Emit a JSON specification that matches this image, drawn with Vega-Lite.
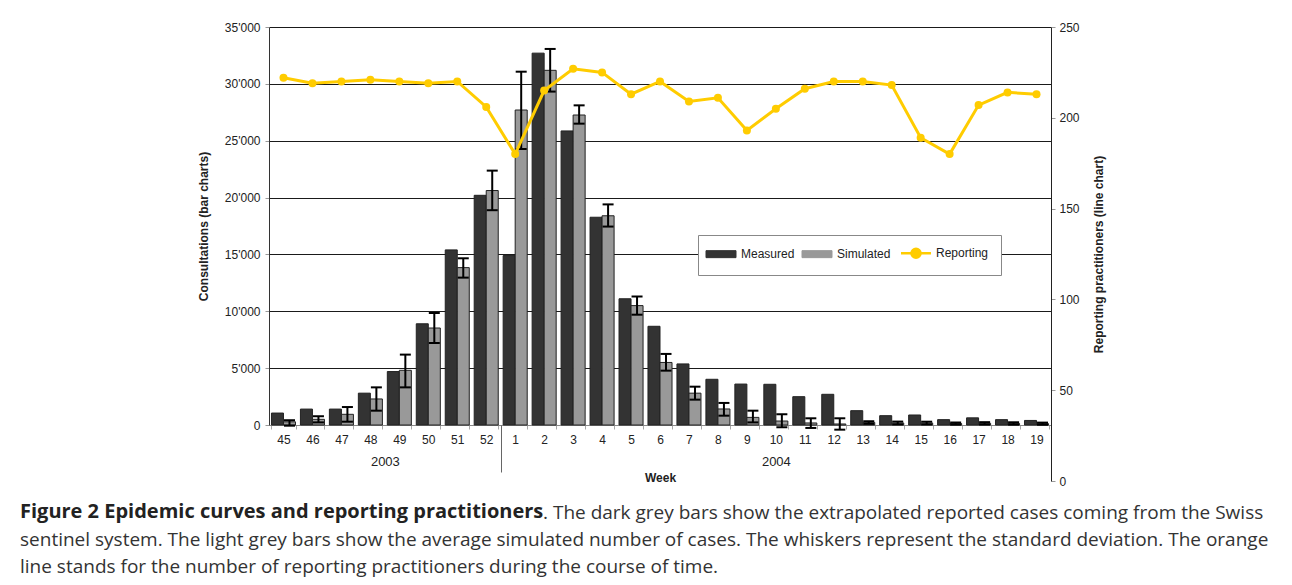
{
  "$schema": "https://vega.github.io/schema/vega-lite/v6.json",
  "padding": {"left": 20, "top": 21, "right": 5, "bottom": 5},
  "background": "white",
  "config": {
    "font": "Liberation Sans",
    "view": {"stroke": null},
    "axis": {"labelFont": "Liberation Sans", "titleFont": "Liberation Sans"},
    "legend": {"labelFont": "Liberation Sans"}
  },
  "title": {
    "text": ". The dark grey bars show the extrapolated reported cases coming from the Swiss",
    "orient": "bottom", "anchor": "start", "frame": "bounds",
    "dx": 523, "offset": -73,
    "font": "Open Sans", "fontSize": 19, "fontWeight": "normal", "color": "#333333"
  },
  "resolve": {"scale": {"color": "independent"}, "legend": {"color": "independent"}},
  "datasets": {
    "weeks": [
      {"week": "45", "Measured": 1050, "Simulated": 280, "lo": -60, "hi": 420, "Reporting": 222},
      {"week": "46", "Measured": 1400, "Simulated": 500, "lo": 230, "hi": 770, "Reporting": 219},
      {"week": "47", "Measured": 1400, "Simulated": 940, "lo": 290, "hi": 1580, "Reporting": 220},
      {"week": "48", "Measured": 2800, "Simulated": 2290, "lo": 1260, "hi": 3310, "Reporting": 221},
      {"week": "49", "Measured": 4700, "Simulated": 4810, "lo": 3310, "hi": 6190, "Reporting": 220},
      {"week": "50", "Measured": 8900, "Simulated": 8530, "lo": 7210, "hi": 9850, "Reporting": 219},
      {"week": "51", "Measured": 15400, "Simulated": 13840, "lo": 12960, "hi": 14660, "Reporting": 220},
      {"week": "52", "Measured": 20200, "Simulated": 20620, "lo": 18890, "hi": 22370, "Reporting": 206},
      {"week": "1", "Measured": 14900, "Simulated": 27700, "lo": 24270, "hi": 31070, "Reporting": 180},
      {"week": "2", "Measured": 32700, "Simulated": 31190, "lo": 29320, "hi": 33070, "Reporting": 215},
      {"week": "3", "Measured": 25860, "Simulated": 27260, "lo": 26500, "hi": 28110, "Reporting": 227},
      {"week": "4", "Measured": 18270, "Simulated": 18400, "lo": 17450, "hi": 19400, "Reporting": 225},
      {"week": "5", "Measured": 11100, "Simulated": 10500, "lo": 9700, "hi": 11300, "Reporting": 213},
      {"week": "6", "Measured": 8680, "Simulated": 5500, "lo": 4780, "hi": 6250, "Reporting": 220},
      {"week": "7", "Measured": 5370, "Simulated": 2800, "lo": 2230, "hi": 3370, "Reporting": 209},
      {"week": "8", "Measured": 4020, "Simulated": 1410, "lo": 820, "hi": 1940, "Reporting": 211},
      {"week": "9", "Measured": 3600, "Simulated": 670, "lo": 230, "hi": 1260, "Reporting": 193},
      {"week": "10", "Measured": 3580, "Simulated": 350, "lo": -200, "hi": 940, "Reporting": 205},
      {"week": "11", "Measured": 2490, "Simulated": 180, "lo": -260, "hi": 590, "Reporting": 216},
      {"week": "12", "Measured": 2700, "Simulated": 90, "lo": -410, "hi": 590, "Reporting": 220},
      {"week": "13", "Measured": 1260, "Simulated": 230, "lo": 100, "hi": 330, "Reporting": 220},
      {"week": "14", "Measured": 820, "Simulated": 180, "lo": 60, "hi": 300, "Reporting": 218},
      {"week": "15", "Measured": 880, "Simulated": 180, "lo": 60, "hi": 290, "Reporting": 189},
      {"week": "16", "Measured": 470, "Simulated": 130, "lo": 40, "hi": 220, "Reporting": 180},
      {"week": "17", "Measured": 630, "Simulated": 150, "lo": 50, "hi": 250, "Reporting": 207},
      {"week": "18", "Measured": 470, "Simulated": 140, "lo": 40, "hi": 240, "Reporting": 214},
      {"week": "19", "Measured": 400, "Simulated": 120, "lo": 30, "hi": 210, "Reporting": 213}
    ]
  },
  "vconcat": [
    {
      "width": 782,
      "height": 454,
      "data": {"name": "weeks"},
      "title": {
        "text": "Figure 2 Epidemic curves and reporting practitioners",
        "subtitle": [
          "sentinel system. The light grey bars show the average simulated number of cases. The whiskers represent the standard deviation. The orange",
          "line stands for the number of reporting practitioners during the course of time."
        ],
        "orient": "bottom", "anchor": "start", "frame": "group",
        "dx": -249, "offset": 15,
        "font": "Open Sans", "fontSize": 20, "fontWeight": "bold", "color": "#222222",
        "lineHeight": 22,
        "subtitleFont": "Open Sans", "subtitleFontSize": 19, "subtitleFontWeight": "normal",
        "subtitleColor": "#333333", "subtitlePadding": 9, "subtitleLineHeight": 26.5
      },
      "resolve": {
        "scale": {"x": "independent", "y": "independent"},
        "axis": {"x": "independent", "y": "independent"}
      },
      "layer": [
        {
          "transform": [{"fold": ["Measured", "Simulated"], "as": ["series", "cases"]}],
          "encoding": {
            "x": {
              "field": "week", "type": "nominal",
              "sort": ["45","46","47","48","49","50","51","52","1","2","3","4","5","6","7","8","9","10","11","12","13","14","15","16","17","18","19"],
              "scale": {"paddingInner": 0.17, "paddingOuter": 0.085},
              "axis": {
                "title": null, "labelAngle": 0, "labelFontSize": 12, "labelColor": "#222222",
                "labelPadding": 5, "tickBand": "extent", "tickSize": 4, "tickColor": "#aaaaaa",
                "domainColor": "#888888", "grid": false, "offset": -56
              }
            }
          },
          "layer": [
            {
              "mark": {"type": "bar", "stroke": "#222222", "strokeWidth": 1, "opacity": 1},
              "encoding": {
                "xOffset": {"field": "series", "type": "nominal", "sort": ["Measured", "Simulated"], "scale": {"paddingInner": 0, "paddingOuter": 0}},
                "y": {
                  "field": "cases", "type": "quantitative", "stack": null,
                  "scale": {"domain": [0, 35000], "nice": false, "range": [398, 0]},
                  "axis": {
                    "title": "Consultations (bar charts)",
                    "values": [0, 5000, 10000, 15000, 20000, 25000, 30000, 35000],
                    "labelExpr": "replace(format(datum.value, ','), ',', \"'\")",
                    "grid": true, "gridColor": "#1a1a1a", "gridWidth": 1,
                    "gridOpacity": {"condition": {"test": "datum.value == 0", "value": 0}, "value": 1},
                    "domainColor": "#333333", "tickColor": "#999999", "tickSize": 4,
                    "labelPadding": 5, "labelFontSize": 12, "labelColor": "#222222",
                    "titleFontSize": 12, "titleFontWeight": "bold", "titleColor": "#222222", "titlePadding": 14
                  }
                },
                "color": {
                  "field": "series", "type": "nominal",
                  "scale": {"domain": ["Measured", "Simulated", "Reporting"], "range": ["#333333", "#999999", "#FFCC00"]},
                  "legend": {
                    "title": null, "orient": "none", "legendX": 429, "legendY": 208,
                    "direction": "horizontal", "fillColor": "white", "strokeColor": "#888888",
                    "padding": 12, "labelFontSize": 12, "labelColor": "#222222",
                    "symbolSize": 400, "symbolOffset": 5, "columnPadding": 5, "labelOffset": 14,
                    "encoding": {
                      "symbols": {
                        "shape": {"value": {"expr": "datum.value === 'Reporting' ? 'M-1.5,0H1.5M0.45,0A0.45,0.45,0,1,1,-0.45,0A0.45,0.45,0,1,1,0.45,0Z' : 'M-1.5,-0.35H1.5V0.35H-1.5ZM0,-0.57L0,-0.57M0,0.57L0,0.57'"}},
                        "stroke": {"value": {"expr": "datum.value === 'Reporting' ? '#FFCC00' : '#222222'"}},
                        "strokeWidth": {"value": {"expr": "datum.value === 'Reporting' ? 2.5 : 1"}}
                      }
                    }
                  }
                }
              }
            },
            {
              "transform": [{"filter": "datum.series == 'Simulated'"}],
              "mark": {"type": "rule", "color": "#000000", "strokeWidth": 2},
              "encoding": {
                "xOffset": {"field": "series", "type": "nominal", "sort": ["Measured", "Simulated"]},
                "y": {"field": "lo", "type": "quantitative"},
                "y2": {"field": "hi"}
              }
            },
            {
              "transform": [{"filter": "datum.series == 'Simulated'"}],
              "mark": {"type": "tick", "color": "#000000", "thickness": 2, "size": 11, "opacity": 1},
              "encoding": {
                "xOffset": {"field": "series", "type": "nominal", "sort": ["Measured", "Simulated"]},
                "y": {"field": "lo", "type": "quantitative"}
              }
            },
            {
              "transform": [{"filter": "datum.series == 'Simulated'"}],
              "mark": {"type": "tick", "color": "#000000", "thickness": 2, "size": 11, "opacity": 1},
              "encoding": {
                "xOffset": {"field": "series", "type": "nominal", "sort": ["Measured", "Simulated"]},
                "y": {"field": "hi", "type": "quantitative"}
              }
            }
          ]
        },
        {
          "encoding": {
            "x": {
              "field": "week", "type": "nominal",
              "sort": ["45","46","47","48","49","50","51","52","1","2","3","4","5","6","7","8","9","10","11","12","13","14","15","16","17","18","19"],
              "scale": {"paddingInner": 0.17, "paddingOuter": 0.085},
              "axis": {
                "orient": "bottom", "offset": -56, "title": "Week", "titleFontSize": 12, "titleFontWeight": "bold",
                "titleColor": "#222222", "titlePadding": 0,
                "values": ["49", "10", "1"],
                "labelExpr": "datum.value == '49' ? '2003' : (datum.value == '10' ? '2004' : '')",
                "tickOffset": -14.48,
                "labelOffset": {"condition": {"test": "datum.value == '10'", "value": 14.48}, "value": 0},
                "tickSize": 47, "tickColor": "#666666",
                "tickOpacity": {"condition": {"test": "datum.value == '1'", "value": 1}, "value": 0},
                "domain": false, "grid": false, "labelPadding": -17, "labelFontSize": 13,
                "labelColor": "#222222", "labelAngle": 0, "labelOverlap": false
              }
            }
          },
          "layer": [
            {
              "mark": {"type": "line", "strokeWidth": 3},
              "encoding": {
                "y": {
                  "field": "Reporting", "type": "quantitative",
                  "scale": {"domain": [0, 250], "nice": false},
                  "axis": {
                    "orient": "right", "title": "Reporting practitioners (line chart)",
                    "values": [0, 50, 100, 150, 200, 250], "grid": false,
                    "domainColor": "#222222", "tickColor": "#999999", "tickSize": 4,
                    "labelPadding": 4, "labelFontSize": 12, "labelColor": "#222222",
                    "titleFontSize": 12, "titleFontWeight": "bold", "titleColor": "#222222",
                    "titlePadding": 26, "titleAngle": 270
                  }
                },
                "color": {"datum": "Reporting", "legend": null}
              }
            },
            {
              "mark": {"type": "point", "filled": true, "size": 64, "opacity": 1},
              "encoding": {
                "y": {"field": "Reporting", "type": "quantitative"},
                "color": {"datum": "Reporting", "legend": null}
              }
            }
          ]
        }
      ]
    }
  ]
}
